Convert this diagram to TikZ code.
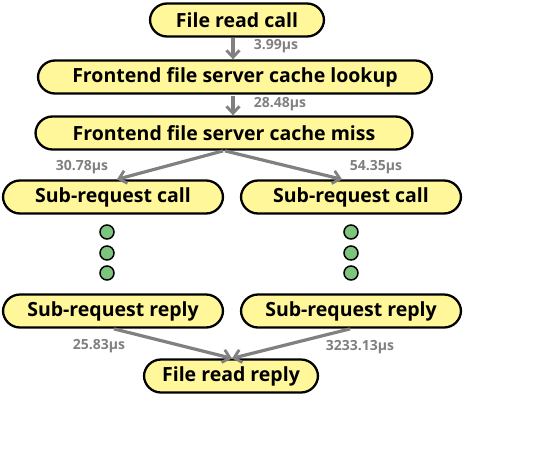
\documentclass[tikz,border=0pt]{standalone}
\usepackage{fontspec}
\setmainfont{Open Sans}
\usetikzlibrary{arrows.meta}

\definecolor{boxfill}{RGB}{255,247,153}
\definecolor{dotfill}{RGB}{125,196,125}
\definecolor{linkgray}{RGB}{128,128,128}

\begin{document}
\begin{tikzpicture}[x=1pt,y=1pt,
  step box/.style={draw,line width=2.3pt,fill=boxfill,rounded corners=17pt,
    minimum height=33pt,font=\fontsize{19.5}{22}\selectfont\bfseries},
  dot node/.style={circle,draw,line width=1.5pt,fill=dotfill,minimum size=14pt,inner sep=0pt},
  link/.style={draw=linkgray,line width=3.2pt,-{Straight Barb[length=7pt,width=13pt,line width=2.8pt]},shorten <=1pt},
  time/.style={text=linkgray,font=\fontsize{14}{16}\selectfont\bfseries}]

  \useasboundingbox (0,0) rectangle (546,-469);

  \node[step box,minimum width=174pt] (read) at (237,-20) {File read call};
  \node[step box,minimum width=394pt] (lookup) at (235,-77) {Frontend file server cache lookup};
  \node[step box,minimum width=377pt] (miss) at (224,-133) {Frontend file server cache miss};
  \node[step box,minimum width=220pt] (subL) at (113,-197) {Sub-request call};
  \node[step box,minimum width=220pt] (subR) at (351,-197) {Sub-request call};
  \node[step box,minimum width=220pt] (replyL) at (113,-311) {Sub-request reply};
  \node[step box,minimum width=220pt] (replyR) at (351,-311) {Sub-request reply};
  \node[step box,minimum width=174pt] (done) at (231,-376) {File read reply};

  % dots between call and reply
  \foreach \y [count=\i] in {-232,-253,-273} {
    \node[dot node] (dotL\i) at (107,\y) {};
    \node[dot node] (dotR\i) at (351,\y) {};
  }

  \path (233,-37) coordinate (a1) (233,-95) coordinate (a2);
  \draw[link] (a1) -- (a1 |- lookup.north);
  \draw[link] (a2) -- (a2 |- miss.north);
  \draw[link] (miss.south) -- ([xshift=4pt]subL.north);
  \draw[link] (miss.south) -- ([xshift=-9pt]subR.north);
  \draw[link] (replyL.south) -- ([xshift=1pt]done.north);
  \draw[link] (replyR.south) -- ([xshift=1pt]done.north);

  \node[time] (t1) at (276,-46) {3.99µs};
  \node[time] (t2) at (280,-104) {28.48µs};
  \node[time] (t3) at (82,-167) {30.78µs};
  \node[time] (t4) at (376,-167) {54.35µs};
  \node[time] (t5) at (99,-346) {25.83µs};
  \node[time] (t6) at (360,-347) {3233.13µs};
\end{tikzpicture}
\end{document}
